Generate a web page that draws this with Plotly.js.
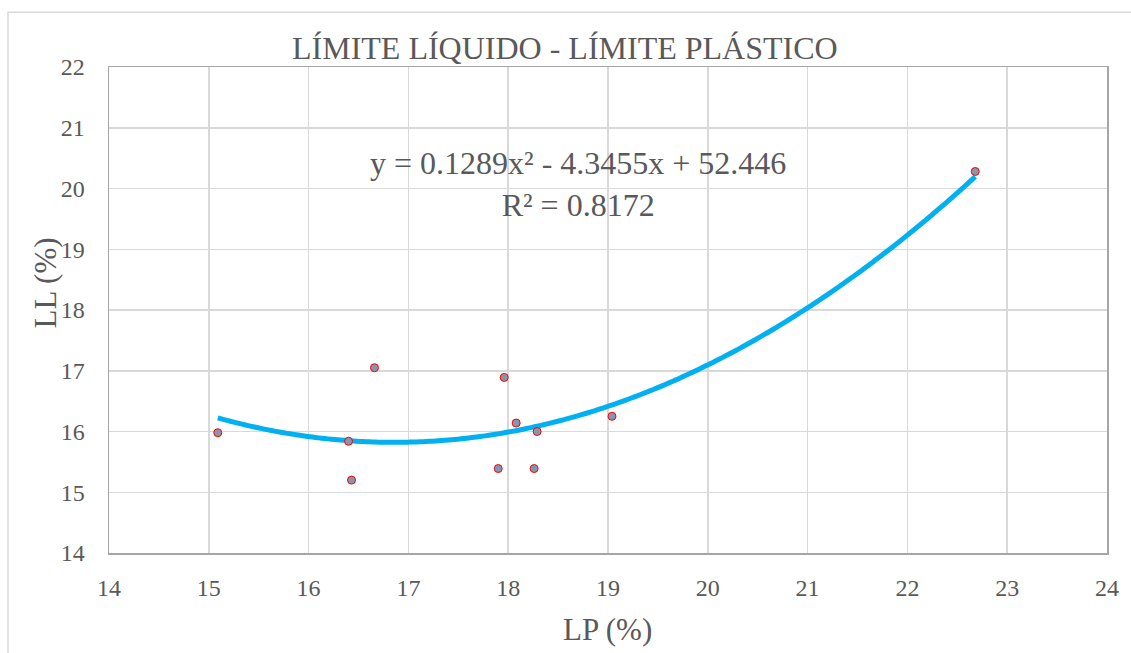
<!DOCTYPE html>
<html>
<head>
<meta charset="utf-8">
<script src="https://cdn.plot.ly/plotly-3.0.1.min.js"></script>
<style>html,body{margin:0;padding:0;background:#fff;}#chart{width:1131px;height:653px;}</style>
</head>
<body>
<div id="chart"></div>
<script>
// Data
const lp = [15.09, 16.40, 16.43, 16.66, 17.90, 17.96, 18.08, 18.26, 18.29, 19.04, 22.68];
const ll = [15.98, 15.84, 15.20, 17.05, 15.39, 16.89, 16.14, 15.39, 16.00, 16.25, 20.28];
// Polynomial trendline coefficients as displayed on the chart
const coefA = 0.1289, coefB = -4.3455, coefC = 52.446;
const titleText = "LÍMITE LÍQUIDO - LÍMITE PLÁSTICO";
const eqText = "y = 0.1289x² - 4.3455x + 52.446<br>R² = 0.8172";
const xTitle = "LP (%)";
const yTitle = "LL (%)";

const xmin = Math.min(...lp), xmax = Math.max(...lp);
const tx = [], ty = [];
const n = 120;
for (let i = 0; i <= n; i++) {
  const x = xmin + (xmax - xmin) * i / n;
  tx.push(x);
  ty.push(coefA * x * x + coefB * x + coefC);
}

const font = "'Liberation Serif', 'DejaVu Serif', serif";
const grey = "#595959";

const traces = [
  {x: tx, y: ty, mode: "lines", type: "scatter",
   line: {color: "#00B0F0", width: 5, shape: "spline"}, hoverinfo: "skip"},
  {x: lp, y: ll, mode: "markers", type: "scatter",
   marker: {size: 8, color: "#8497B0", line: {color: "#FF0000", width: 1}}}
];

const layout = {
  width: 1131, height: 653,
  margin: {l: 109, r: 24, t: 67, b: 100},
  paper_bgcolor: "#ffffff", plot_bgcolor: "#ffffff",
  showlegend: false,
  font: {family: font, color: grey, size: 20},
  xaxis: {
    range: [14, 24], dtick: 1, tick0: 14,
    showgrid: true, gridcolor: "#d9d9d9", gridwidth: 1.5,
    zeroline: false, showline: true, linecolor: "#a6a6a6", linewidth: 1.5, mirror: true,
    ticks: "", ticklabelstandoff: 13,
    tickfont: {family: font, size: 24, color: grey}
  },
  yaxis: {
    range: [14, 22], dtick: 1, tick0: 14,
    showgrid: true, gridcolor: "#d9d9d9", gridwidth: 1.5,
    zeroline: false, showline: true, linecolor: "#a6a6a6", linewidth: 1.5, mirror: true,
    ticks: "", ticklabelstandoff: 18,
    tickfont: {family: font, size: 24, color: grey}
  },
  annotations: [
    {text: titleText, xref: "paper", yref: "paper", x: 0.457, y: 1.04,
     showarrow: false, font: {family: font, size: 32, color: grey}, xanchor: "center", yanchor: "middle"},
    {text: eqText, xref: "paper", yref: "paper", x: 0.470, y: 0.76,
     showarrow: false, font: {family: font, size: 32, color: grey}, xanchor: "center", yanchor: "middle"},
    {text: xTitle, xref: "paper", yref: "paper", x: 0.499, y: -0.158,
     showarrow: false, font: {family: font, size: 31, color: grey}, xanchor: "center", yanchor: "middle"},
    {text: yTitle, xref: "paper", yref: "paper", x: -0.064, y: 0.555, textangle: -90,
     showarrow: false, font: {family: font, size: 31, color: grey}, xanchor: "center", yanchor: "middle"}
  ],
  shapes: [
    {type: "rect", xref: "paper", yref: "paper", x0: -0.1012, x1: 1.2, y0: -0.4, y1: 1.1125,
     line: {color: "#d9d9d9", width: 1.5}, fillcolor: "rgba(0,0,0,0)", layer: "below"}
  ]
};

Plotly.newPlot("chart", traces, layout, {displayModeBar: false, staticPlot: true});
</script>
</body>
</html>
